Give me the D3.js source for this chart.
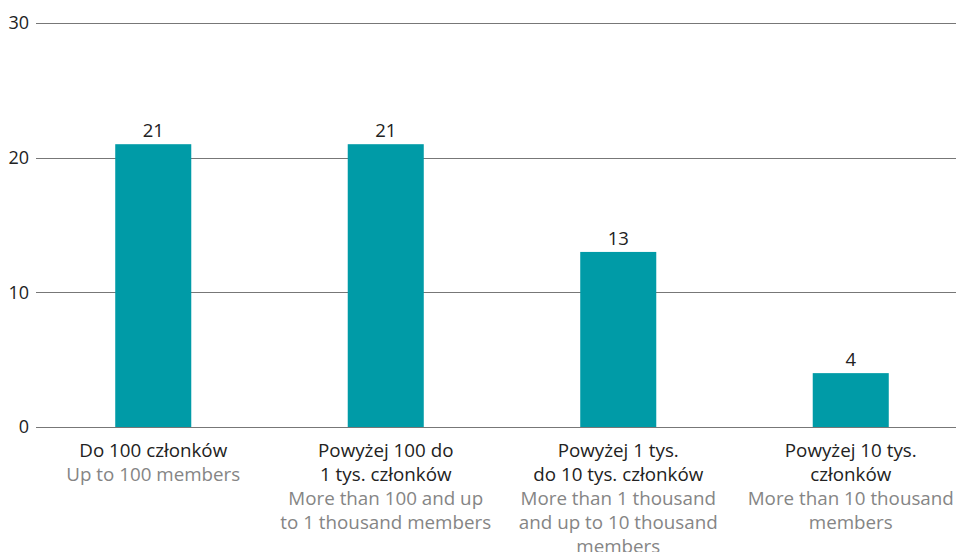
<!DOCTYPE html>
<html><head><meta charset="utf-8">
<script src="https://cdn.jsdelivr.net/npm/d3@7"></script>
<style>body{margin:0;background:#fff;} svg{display:block;}</style>
</head><body>
<script>
const categoriesPL = [
  ["Do 100 członków"],
  ["Powyżej 100 do", "1 tys. członków"],
  ["Powyżej 1 tys.", "do 10 tys. członków"],
  ["Powyżej 10 tys.", "członków"]
];
const categoriesEN = [
  ["Up to 100 members"],
  ["More than 100 and up", "to 1 thousand members"],
  ["More than 1 thousand", "and up to 10 thousand", "members"],
  ["More than 10 thousand", "members"]
];
const values = [21, 21, 13, 4];
const yTicks = [0, 10, 20, 30];

const W = 956, H = 552;
const svg = d3.select("body").append("svg").attr("width", W).attr("height", H);
const font = "'Open Sans', sans-serif";

const y = d3.scaleLinear().domain([0, 30]).range([427, 23]);
const x = d3.scaleBand().domain(d3.range(values.length)).range([37, 967]).paddingInner(0.673).paddingOuter(0.3365);

// gridlines
svg.append("g").selectAll("line").data(yTicks).join("line")
  .attr("x1", 36).attr("x2", W)
  .attr("y1", d => Math.round(y(d)) + 0.5).attr("y2", d => Math.round(y(d)) + 0.5)
  .attr("stroke", "#777").attr("stroke-width", 1);

svg.append("g").selectAll("text").data(yTicks).join("text")
  .attr("x", 29).attr("y", d => y(d)).attr("dy", "0.35em")
  .attr("text-anchor", "end").attr("font-family", font).attr("font-size", 18)
  .attr("fill", "#222").text(d => d);

// bars
svg.append("g").selectAll("rect").data(values).join("rect")
  .attr("x", (d, i) => x(i)).attr("width", x.bandwidth())
  .attr("y", d => y(d)).attr("height", d => y(0) - y(d))
  .attr("fill", "#009ba7");

svg.append("g").selectAll("text").data(values).join("text")
  .attr("x", (d, i) => x(i) + x.bandwidth() / 2).attr("y", d => y(d) - 7)
  .attr("text-anchor", "middle").attr("font-family", font).attr("font-size", 18.5)
  .attr("fill", "#222").text(d => d);

// category labels
const lineH = 24;
categoriesPL.forEach((pl, i) => {
  const cx = x(i) + x.bandwidth() / 2;
  const lines = pl.map(t => ({t, c: "#222"})).concat(categoriesEN[i].map(t => ({t, c: "#858585"})));
  svg.append("g").selectAll("text").data(lines).join("text")
    .attr("x", cx).attr("y", (d, j) => 450 + j * lineH).attr("dy", "0.35em")
    .attr("text-anchor", "middle").attr("font-family", font).attr("font-size", 18.8)
    .attr("fill", d => d.c).text(d => d.t);
});
</script>
</body></html>
